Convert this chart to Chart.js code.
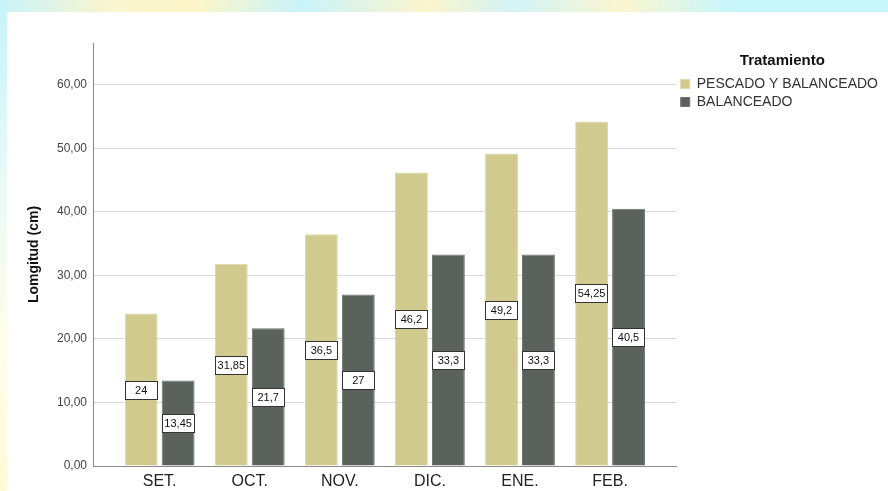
<!DOCTYPE html>
<html><head><meta charset="utf-8">
<script src="https://cdn.jsdelivr.net/npm/chart.js@4/dist/chart.umd.min.js"></script>
<style>
html,body{margin:0;padding:0;width:888px;height:491px;overflow:hidden;}
body{position:relative;background:linear-gradient(90deg,#c8f4fa 0%,#f9f5cf 12%,#fdf6c9 22%,#c9f3fa 34%,#fbf5cc 48%,#d2f3f6 58%,#fbf6cf 70%,#c8f6fb 82%,#c8f6fb 100%);}
#left{position:absolute;left:0;top:12px;width:7px;height:479px;background:linear-gradient(180deg,#c8f4fa 0%,#eefaf6 40%,#fffde8 70%,#fdfbd6 100%);}
#panel{position:absolute;left:7px;top:12px;width:881px;height:479px;background:#fff;}
canvas{position:absolute;left:0;top:0;}
</style></head>
<body><div id="left"></div><div id="panel"></div><canvas id="c" width="888" height="491"></canvas>
<script>
const categories = ['SET.','OCT.','NOV.','DIC.','ENE.','FEB.'];
const pescadoBalanceado = [24, 31.85, 36.5, 46.2, 49.2, 54.25];
const balanceado = [13.45, 21.7, 27, 33.3, 33.3, 40.5];
const seriesNames = ['PESCADO Y BALANCEADO', 'BALANCEADO'];
const yTickValues = [0, 10, 20, 30, 40, 50, 60];
const yTitle = 'Lomgitud (cm)';
const legendTitle = 'Tratamiento';

const FONT = "'Liberation Sans', Arial, sans-serif";
const fmt = v => String(v).replace('.', ',');

const boxLabels = {
  id: 'boxLabels',
  afterDatasetsDraw(chart) {
    const ctx = chart.ctx;
    ctx.save();
    ctx.font = '11px ' + FONT;
    ctx.textAlign = 'center';
    ctx.textBaseline = 'middle';
    chart.data.datasets.forEach((ds, di) => {
      const meta = chart.getDatasetMeta(di);
      meta.data.forEach((bar, i) => {
        const p = bar.getProps(['x', 'y', 'base', 'width'], true);
        const cy = (p.y + p.base) / 2;
        const h = 18;
        const w = Math.round(p.width);
        const l = Math.round(p.x - p.width / 2) + 0.5;
        const t = Math.round(cy - h / 2) + 0.5;
        ctx.fillStyle = '#ffffff';
        ctx.fillRect(l, t, w - 1, h);
        ctx.strokeStyle = '#333333';
        ctx.lineWidth = 1;
        ctx.strokeRect(l, t, w - 1, h);
        ctx.fillStyle = '#111111';
        ctx.fillText(fmt(ds.data[i].y), p.x, t + h / 2 + 0.5);
      });
    });
    ctx.restore();
  }
};

const toPoints = arr => arr.map((v, i) => ({ x: i, y: v }));

new Chart(document.getElementById('c'), {
  type: 'bar',
  data: {
    datasets: [
      { label: seriesNames[0], data: toPoints(pescadoBalanceado), backgroundColor: '#d0ca8e', borderColor: '#dcd8a9', borderWidth: 1 },
      { label: seriesNames[1], data: toPoints(balanceado), backgroundColor: '#5a625b', borderColor: '#6b726b', borderWidth: 1 }
    ]
  },
  options: {
    responsive: false,
    animation: false,
    devicePixelRatio: 1,
    layout: { padding: { top: 43, right: 0, left: 0, bottom: 0 } },
    categoryPercentage: 0.82,
    barPercentage: 0.89,
    scales: {
      x: {
        type: 'linear',
        min: -0.74,
        max: 5.74,
        offset: false,
        grid: { display: false, drawTicks: false },
        border: { display: true, color: '#8a8a8a', width: 1 },
        afterBuildTicks: s => { s.ticks = categories.map((c, i) => ({ value: i })); },
        afterFit: s => { s.height = 25; },
        ticks: {
          padding: 6,
          autoSkip: false,
          maxRotation: 0,
          color: '#222222',
          font: { family: FONT, size: 16 },
          callback: v => categories[v]
        }
      },
      y: {
        min: 0,
        max: 66.6,
        afterBuildTicks: s => { s.ticks = yTickValues.map(v => ({ value: v })); },
        afterFit: s => { s.width = 93; },
        grid: { color: '#d9d9d9', lineWidth: 1, drawTicks: false },
        border: { display: true, color: '#8a8a8a', width: 1 },
        ticks: {
          padding: 6,
          color: '#444444',
          font: { family: FONT, size: 12 },
          callback: v => v.toFixed(2).replace('.', ',')
        },
        title: {
          display: true,
          text: yTitle,
          color: '#111111',
          font: { family: FONT, size: 14, weight: 'bold' },
          padding: { top: 26, bottom: 0 }
        }
      }
    },
    plugins: {
      tooltip: { enabled: false },
      legend: {
        position: 'right',
        align: 'start',
        title: {
          display: true,
          text: legendTitle,
          color: '#111111',
          font: { family: FONT, size: 15, weight: 'bold' },
          padding: { top: 10, bottom: 2 }
        },
        labels: {
          boxWidth: 9,
          boxHeight: 9,
          padding: 4,
          color: '#333333',
          font: { family: FONT, size: 14 }
        }
      }
    }
  },
  plugins: [boxLabels]
});
</script>
</body></html>
